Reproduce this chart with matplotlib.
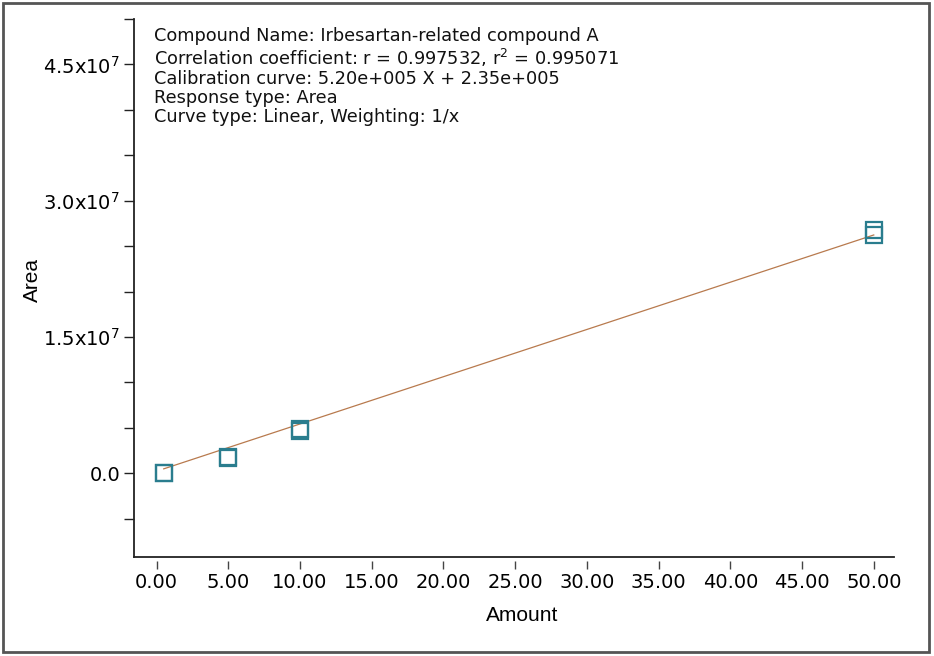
import numpy as np
import matplotlib
matplotlib.use("Agg")
import matplotlib.pyplot as plt
from matplotlib.ticker import MultipleLocator, FixedLocator, FuncFormatter
from matplotlib.patches import Rectangle

# calibration standards (replicate injections)
amount = [0.5, 0.5, 5.0, 5.0, 10.0, 10.0, 50.0, 50.0]
area = [0.05e6, 0.0e6, 1.70e6, 1.82e6, 4.65e6, 4.90e6, 2.62e7, 2.68e7]

slope = 5.20e5
intercept = 2.35e5
fit_x = [0.5, 50.0]

x_ticks = [0, 5, 10, 15, 20, 25, 30, 35, 40, 45, 50]

info = ["Compound Name: Irbesartan-related compound A",
        "Correlation coefficient: r = 0.997532, r$^2$ = 0.995071",
        "Calibration curve: 5.20e+005 X + 2.35e+005",
        "Response type: Area",
        "Curve type: Linear, Weighting: 1/x"]

plt.rcParams['font.family'] = 'DejaVu Sans'
plt.rcParams['mathtext.fontset'] = 'dejavusans'

fig = plt.figure(figsize=(9.34, 6.56), dpi=100)
ax = fig.add_axes([0.1435, 0.151, 0.8135, 0.820])

fit_y = [slope * x + intercept for x in fit_x]
ax.plot(fit_x, fit_y, color='#b87a4e', lw=0.9, zorder=2)
ax.plot(amount, area, ls='none', marker='s', ms=12, mfc='none',
        mec='#2a7d8e', mew=1.6, zorder=3)

ax.set_xlim(-1.57, 51.4)
ax.set_ylim(-9.2e6, 5.0e7)

ax.spines['top'].set_visible(False)
ax.spines['right'].set_visible(False)
for s in ('left', 'bottom'):
    ax.spines[s].set_linewidth(1.3)
    ax.spines[s].set_color('#222222')

# y axis: major every 1.5e7, ticks every 5e6
def yfmt(v, pos):
    if abs(v) < 1:
        return "0.0"
    m = v / 1e7
    return "%.1fx10$^{7}$" % m

ax.yaxis.set_major_locator(MultipleLocator(1.5e7))
ax.yaxis.set_minor_locator(MultipleLocator(5e6))
ax.yaxis.set_major_formatter(FuncFormatter(yfmt))
ax.tick_params(axis='y', which='both', direction='out', length=7, width=1.0,
               color='#222222', labelsize=14, pad=3)

# x axis ticks sit slightly below the spine
ax.tick_params(axis='x', which='both', bottom=False, labelbottom=False)
sec = ax.secondary_xaxis(-0.007)
sec.spines['bottom'].set_visible(False)
sec.xaxis.set_major_locator(FixedLocator(x_ticks))
sec.xaxis.set_major_formatter(FuncFormatter(lambda v, p: "%.2f" % v))
sec.tick_params(axis='x', direction='out', length=6, width=1.0,
                color='#444444', labelsize=14, pad=3)

fig.text(0.559, 0.062, "Amount", ha='center', va='center', fontsize=15,
         family='Liberation Sans')
fig.text(0.035, 0.573, "Area", ha='center', va='center', fontsize=15,
         rotation=90, family='Liberation Sans')

ax.text(0.026, 0.985, "\n".join(info), transform=ax.transAxes, ha='left',
        va='top', fontsize=12.8, linespacing=1.08, color='#111111')

fig.patches.append(Rectangle((0.0035, 0.006), 0.9915, 0.989,
                             transform=fig.transFigure, fill=False,
                             ec='#555555', lw=2))

fig.savefig("out.png", dpi=100)
